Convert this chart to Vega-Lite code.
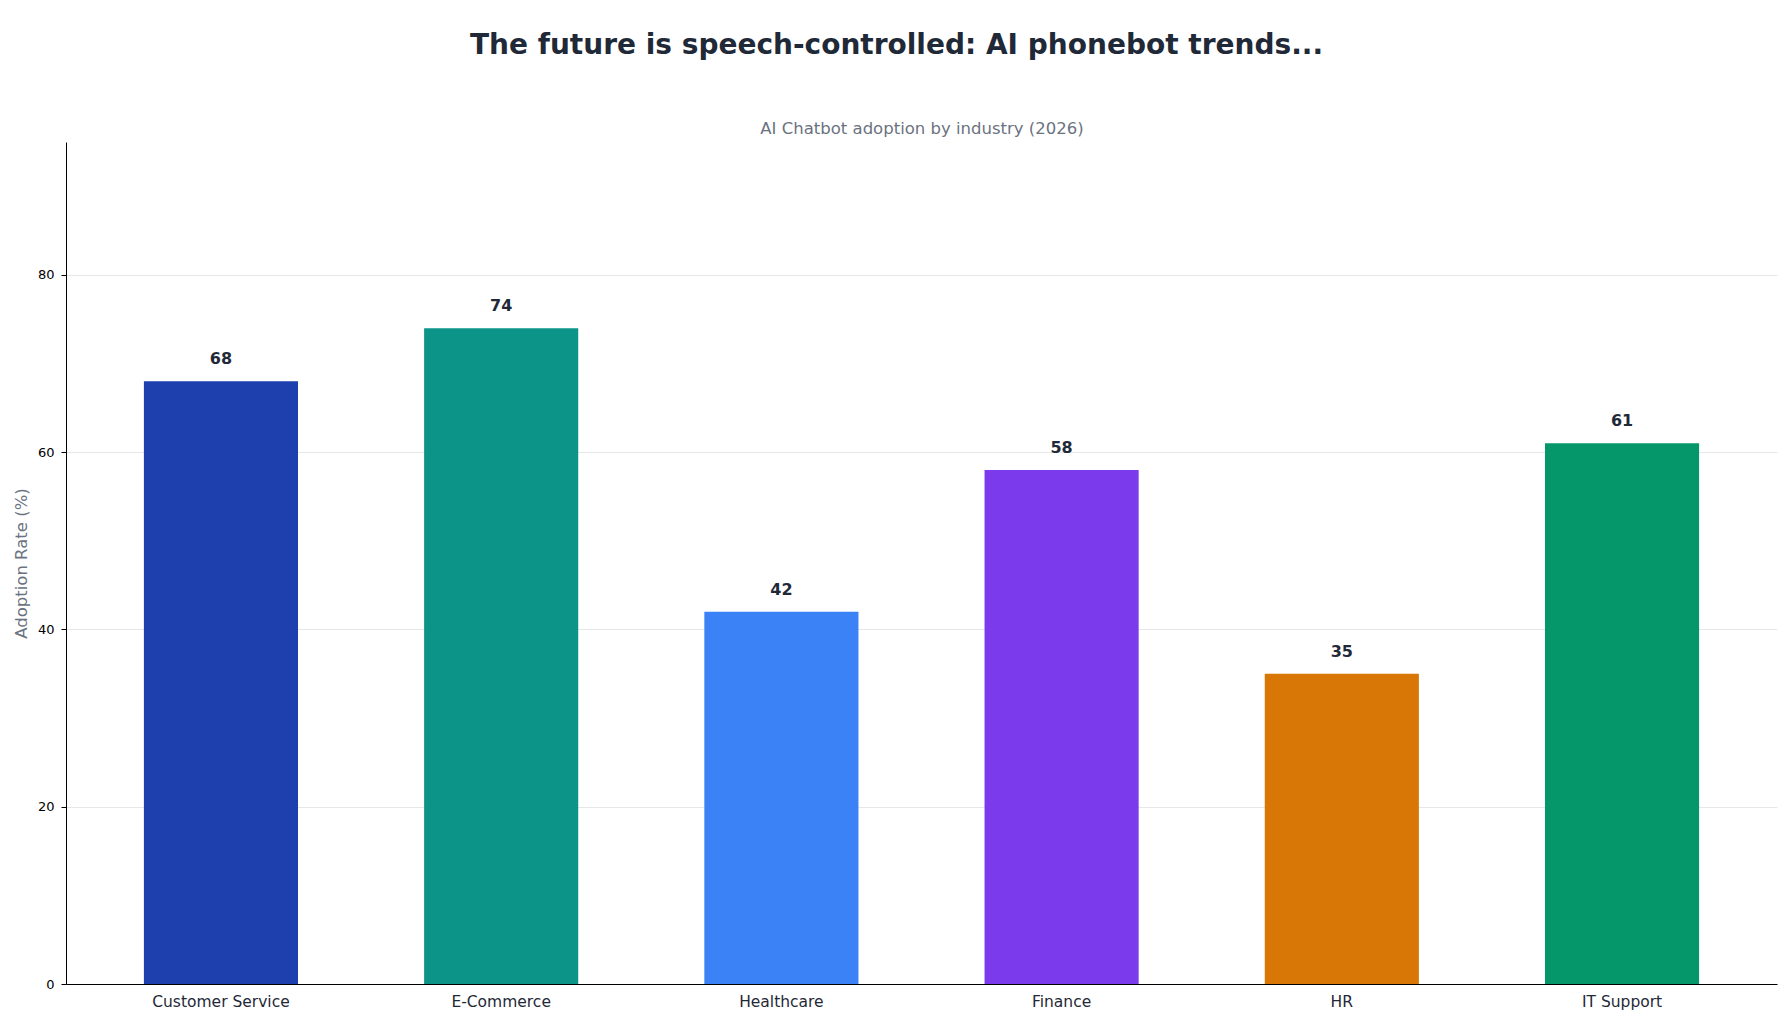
{
  "$schema": "https://vega.github.io/schema/vega-lite/v6.json",
  "autosize": "none",
  "width": 1711,
  "height": 842,
  "padding": {"left": 66, "top": 142, "right": 15, "bottom": 40},
  "background": "white",
  "title": {
    "text": "The future is speech-controlled: AI phonebot trends...",
    "font": "DejaVu Sans",
    "fontSize": 28,
    "fontWeight": "bold",
    "color": "#1f2937",
    "anchor": "middle",
    "frame": "group",
    "dx": -25,
    "offset": 60
  },
  "config": {
    "view": {"stroke": null},
    "font": "DejaVu Sans"
  },
  "data": {
    "values": [
      {"industry": "Customer Service", "rate": 68},
      {"industry": "E-Commerce", "rate": 74},
      {"industry": "Healthcare", "rate": 42},
      {"industry": "Finance", "rate": 58},
      {"industry": "HR", "rate": 35},
      {"industry": "IT Support", "rate": 61}
    ]
  },
  "encoding": {
    "y": {
      "field": "rate",
      "type": "quantitative",
      "scale": {"domain": [0, 95], "nice": false},
      "axis": {
        "title": "Adoption Rate (%)",
        "titleFont": "DejaVu Sans",
        "titleFontSize": 16.5,
        "titleFontWeight": "normal",
        "titleColor": "#6b7280",
        "titlePadding": 8,
        "values": [0, 20, 40, 60, 80],
        "labelFont": "DejaVu Sans",
        "labelFontSize": 13,
        "labelColor": "black",
        "labelPadding": 7,
        "tickSize": 5,
        "tickColor": "black",
        "domainColor": "black",
        "grid": true,
        "gridColor": "#e5e7eb",
        "gridWidth": 1
      }
    }
  },
  "layer": [
    {
      "mark": {"type": "bar"},
      "encoding": {
        "x": {
          "field": "industry",
          "type": "nominal",
          "sort": null,
          "scale": {"paddingInner": 0.45, "paddingOuter": 0.278},
          "axis": {
            "title": null,
            "labelAngle": 0,
            "labelFont": "DejaVu Sans",
            "labelFontSize": 15.5,
            "labelColor": "#1f2937",
            "labelPadding": 10,
            "ticks": false,
            "domainColor": "black",
            "grid": false
          }
        },
        "color": {
          "field": "industry",
          "type": "nominal",
          "sort": null,
          "scale": {
            "domain": ["Customer Service", "E-Commerce", "Healthcare", "Finance", "HR", "IT Support"],
            "range": ["#1e40af", "#0d9488", "#3b82f6", "#7c3aed", "#d97706", "#059669"]
          },
          "legend": null
        }
      }
    },
    {
      "mark": {
        "type": "text",
        "baseline": "alphabetic",
        "align": "center",
        "dy": -17,
        "font": "DejaVu Sans",
        "fontSize": 16,
        "fontWeight": "bold",
        "color": "#1f2937"
      },
      "encoding": {
        "x": {
          "field": "industry",
          "type": "nominal",
          "sort": null,
          "axis": {
            "orient": "top",
            "title": "AI Chatbot adoption by industry (2026)",
            "titleFont": "DejaVu Sans",
            "titleFontSize": 16.5,
            "titleFontWeight": "normal",
            "titleColor": "#6b7280",
            "titlePadding": 6,
            "labels": false,
            "ticks": false,
            "domain": false,
            "grid": false
          }
        },
        "text": {"field": "rate", "type": "quantitative"}
      }
    }
  ],
  "resolve": {"axis": {"x": "independent"}}
}
